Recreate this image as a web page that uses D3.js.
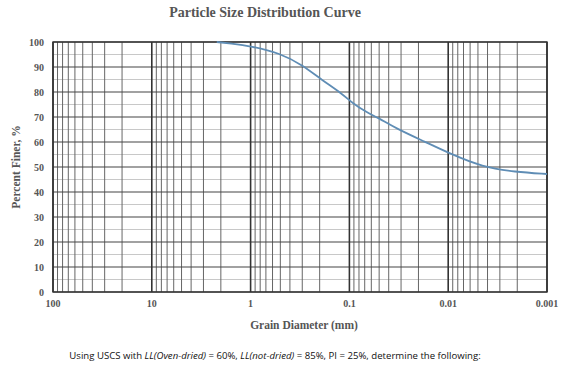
<!DOCTYPE html>
<html>
<head>
<meta charset="utf-8">
<script src="https://cdn.jsdelivr.net/npm/d3@7"></script>
<style>
  body { margin: 0; background: #fff; }
</style>
</head>
<body>
<div id="container"></div>
<script>
// grain size (mm) and percent finer
let diameters = [2.2, 1.6, 1.0, 0.5, 0.3, 0.19, 0.12, 0.093, 0.068, 0.05, 0.034, 0.017, 0.0098, 0.0045, 0.0021, 0.001];
let percentFiner = [100, 99.4, 98.4, 95.5, 90.8, 84.8, 79.5, 75.5, 72, 69.5, 65.5, 60, 55.5, 50, 48, 47.2];

let xTicks = [100, 10, 1, 0.1, 0.01, 0.001];
let xTickLabels = ["100", "10", "1", "0.1", "0.01", "0.001"];
let yTicks = [0, 10, 20, 30, 40, 50, 60, 70, 80, 90, 100];

let w = 568;
let h = 378;
let margin = { top: 42, right: 21, bottom: 86, left: 53 };

let svg = d3.select("#container")
  .append("svg")
  .attr("width", w)
  .attr("height", h)
  .style("background-color", "#fff");

let serif = "'Liberation Serif', 'DejaVu Serif', serif";
let textColor = "#555";

let xScale = d3.scaleLog()
  .domain([100, 0.001])
  .range([margin.left, w - margin.right]);

let yScale = d3.scaleLinear()
  .domain([0, 100])
  .range([h - margin.bottom, margin.top]);

let grid = svg.append("g");

// horizontal grid: light every 5, dark every 10
for (let v = 5; v < 100; v += 10) {
  grid.append("line")
    .attr("x1", margin.left).attr("x2", w - margin.right)
    .attr("y1", yScale(v)).attr("y2", yScale(v))
    .attr("stroke", "#c8c8c8").attr("stroke-width", 1);
}

// vertical minor lines (2..9 in each decade)
for (let dec = -3; dec < 2; dec++) {
  for (let m = 2; m <= 9; m++) {
    let v = m * Math.pow(10, dec);
    grid.append("line")
      .attr("x1", xScale(v)).attr("x2", xScale(v))
      .attr("y1", margin.top).attr("y2", h - margin.bottom)
      .attr("stroke", "#666").attr("stroke-width", 1);
  }
}

yTicks.forEach(v => {
  grid.append("line")
    .attr("x1", margin.left).attr("x2", w - margin.right)
    .attr("y1", yScale(v)).attr("y2", yScale(v))
    .attr("stroke", "#444").attr("stroke-width", 1.2);
});

xTicks.forEach(v => {
  grid.append("line")
    .attr("x1", xScale(v)).attr("x2", xScale(v))
    .attr("y1", margin.top).attr("y2", h - margin.bottom)
    .attr("stroke", "#333").attr("stroke-width", 1.6);
});

// border
svg.append("rect")
  .attr("x", margin.left)
  .attr("y", margin.top)
  .attr("width", w - margin.left - margin.right)
  .attr("height", h - margin.top - margin.bottom)
  .attr("fill", "none")
  .attr("stroke", "#333")
  .attr("stroke-width", 1.4);

// curve
let pts = diameters.map((d, i) => [d, percentFiner[i]]);
let line = d3.line()
  .x(d => xScale(d[0]))
  .y(d => yScale(d[1]))
  .curve(d3.curveBasis);

svg.append("path")
  .datum(pts)
  .attr("fill", "none")
  .attr("stroke", "#5f8db5")
  .attr("stroke-width", 1.8)
  .attr("d", line);

// y axis labels
svg.append("g")
  .selectAll("text")
  .data(yTicks)
  .join("text")
  .attr("x", margin.left - 9)
  .attr("y", d => yScale(d) + 3.5)
  .attr("text-anchor", "end")
  .style("font-family", serif)
  .style("font-weight", "bold")
  .style("font-size", "10px")
  .style("fill", textColor)
  .text(d => d);

// x axis labels
svg.append("g")
  .selectAll("text")
  .data(xTicks)
  .join("text")
  .attr("x", d => xScale(d))
  .attr("y", h - margin.bottom + 15)
  .attr("text-anchor", "middle")
  .style("font-family", serif)
  .style("font-weight", "bold")
  .style("font-size", "10px")
  .style("fill", textColor)
  .text((d, i) => xTickLabels[i]);

// titles
svg.append("text")
  .attr("x", 265)
  .attr("y", 17)
  .attr("text-anchor", "middle")
  .style("font-family", serif)
  .style("font-weight", "bold")
  .style("font-size", "14px")
  .style("fill", textColor)
  .text("Particle Size Distribution Curve");

svg.append("text")
  .attr("x", 304)
  .attr("y", 329)
  .attr("text-anchor", "middle")
  .style("font-family", serif)
  .style("font-weight", "bold")
  .style("font-size", "11.5px")
  .style("fill", textColor)
  .text("Grain Diameter (mm)");

svg.append("text")
  .attr("transform", "translate(20," + 167 + ") rotate(-90)")
  .attr("text-anchor", "middle")
  .style("font-family", serif)
  .style("font-weight", "bold")
  .style("font-size", "11.5px")
  .style("fill", textColor)
  .text("Percent Finer, %");

// note below the chart
let note = svg.append("text")
  .attr("x", 275)
  .attr("y", 359)
  .attr("text-anchor", "middle")
  .style("font-family", "'Open Sans', 'Liberation Sans', sans-serif")
  .style("font-size", "9.6px")
  .style("fill", "#111");
note.append("tspan").text("Using USCS with ");
note.append("tspan").style("font-style", "italic").text("LL(Oven-dried)");
note.append("tspan").text(" = 60%, ");
note.append("tspan").style("font-style", "italic").text("LL(not-dried)");
note.append("tspan").text(" = 85%, PI = 25%, determine the following:");
</script>
</body>
</html>
